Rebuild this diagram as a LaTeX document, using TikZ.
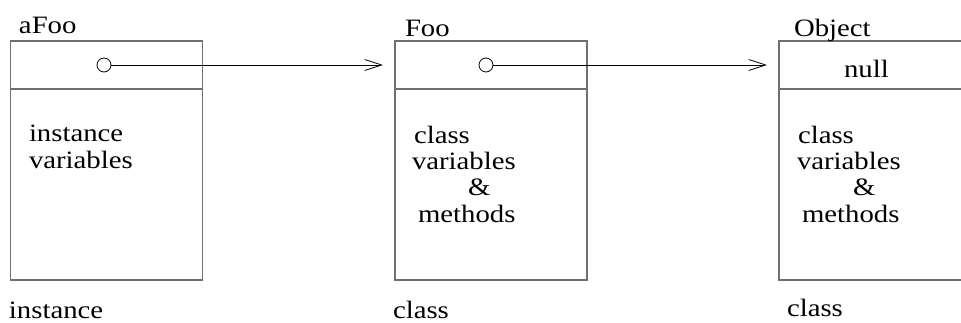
\documentclass[tikz,border=0pt]{standalone}
\usepackage{fontspec}
\setmainfont{Liberation Serif}[FakeStretch=1.15]
\usetikzlibrary{arrows.meta}
\definecolor{framegray}{RGB}{112,112,112}
\begin{document}
\begin{tikzpicture}[x=1pt,y=-1pt,
  every node/.style={inner sep=0pt,outer sep=0pt,font=\fontsize{25}{26.3}\selectfont},
  objbox/.style={draw=framegray,line width=1.4pt,minimum width=192pt,minimum height=239pt},
  divider/.style={draw=framegray,line width=1.4pt},
  ptr/.style={draw=black,line width=0.8pt,circle,minimum size=14pt},
  ref/.style={draw=black,line width=0.8pt,-{Straight Barb[length=17pt,width=11pt,line width=0.8pt]},shorten >=12pt},
  txt/.style={anchor=base west,align=left}]
  \clip (0,0) rectangle (961,322);

  % the three boxes: instance, its class, and the root class
  \node[objbox] (afoo) at (106.5,160.5) {};
  \node[objbox] (foo)  at (491,160.5) {};
  \node[objbox] (obj)  at (875,160.5) {};
  \foreach \b in {afoo,foo,obj}
    \draw[divider] ([yshift=-48pt]\b.north west) -- ([yshift=-48pt]\b.north east);

  % names above the boxes
  \node[txt] (nafoo) at (19,33) {aFoo};
  \node[txt] (nfoo)  at (405,36) {Foo};
  \node[txt] (nobj)  at (794,36) {Object};

  % class pointers
  \node[ptr] (p1) at (104,65) {};
  \node[ptr] (p2) at (486,65) {};
  \draw[ref] (p1.east) -- (foo.west |- p1);
  \draw[ref] (p2.east) -- (obj.west |- p2);
  \node[txt] (null) at (844,77) {null};

  % box contents (base anchor sits on the last line)
  \node[txt] (ivars) at (29,168) {instance\\variables};
  \node[txt] (cvars1) at (412,222) {\hspace*{2pt}class\\variables\\\hspace*{56pt}\&\\\hspace*{6pt}methods};
  \node[txt] (cvars2) at (797,222) {\hspace*{1pt}class\\variables\\\hspace*{56pt}\&\\\hspace*{5pt}methods};

  % captions below the boxes
  \node[txt] (cap1) at (9,318) {instance};
  \node[txt] (cap2) at (393,318) {class};
  \node[txt] (cap3) at (787,316) {class};
\end{tikzpicture}
\end{document}
